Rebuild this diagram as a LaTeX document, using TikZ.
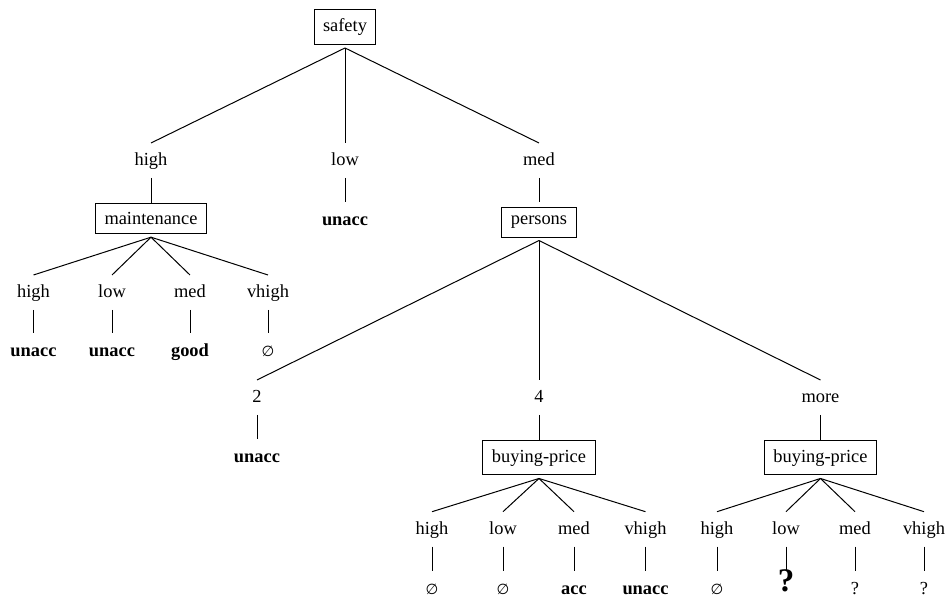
\documentclass[tikz,border=0pt]{standalone}
\usepackage{fontspec}
\setmainfont{Liberation Serif}
\newfontfamily\dejavu{DejaVu Sans}
\newcommand\myfs{\fontsize{9.2}{11}\selectfont}
\tikzset{
  lab/.style={inner sep=0pt, text height=7.3pt, text depth=2.2pt, outer ysep=4pt, anchor=north, font=\myfs},
  leaf/.style={inner sep=0pt, text height=7.3pt, text depth=2.2pt, outer ysep=4.5pt, anchor=north, font=\myfs\bfseries},
  emptyleaf/.style={leaf, font=\dejavu\fontsize{7.3}{8}\selectfont},
  bigq/.style={leaf, text height=6.1pt, font=\fontsize{16.5}{20}\selectfont\bfseries},
  smallq/.style={leaf, font=\myfs},
  attr/.style={draw, line width=0.5pt, inner xsep=4.5pt, inner ysep=4.35pt, anchor=base, font=\myfs},
  edge/.style={line width=0.5pt},
}
\begin{document}
\begin{tikzpicture}[x=0.5pt, y=-0.5pt]
\useasboundingbox (0,0) rectangle (950,598);
% root
\node[attr] (safety) at (345,31.4) {safety};
\node[lab] (shigh) at (151,143) {high};
\node[lab] (slow) at (345,143) {low};
\node[lab] (smed) at (539,143) {med};
\draw[edge] ([yshift=-1.7pt]safety.south) -- (shigh.north);
\draw[edge] ([yshift=-1.7pt]safety.south) -- (slow.north);
\draw[edge] ([yshift=-1.7pt]safety.south) -- (smed.north);
% level 1
\node[attr] (maint) at (151,224.4) {maintenance};
\node[leaf] (slowr) at (345,202) {unacc};
\node[attr] (persons) at (539,224.4) {persons};
\draw[edge] (shigh.south) -- (maint.north);
\draw[edge] (slow.south) -- (slowr.north);
\draw[edge] (smed.south) -- ([yshift=2.4pt]persons.north);
% maintenance children
\node[lab] (mhigh) at (33.5,275) {high};
\node[lab] (mlow) at (112,275) {low};
\node[lab] (mmed) at (190,275) {med};
\node[lab] (mvhigh) at (268,275) {vhigh};
\foreach \n in {mhigh,mlow,mmed,mvhigh}
  \draw[edge] ([yshift=-1.7pt]maint.south) -- (\n.north);
\node[leaf] (mhighr) at (33.5,333) {unacc};
\node[leaf] (mlowr) at (112,333) {unacc};
\node[leaf] (mmedr) at (190,333) {good};
\node[emptyleaf] (mvhighr) at (268,333) {∅};
\draw[edge] (mhigh.south) -- (mhighr.north);
\draw[edge] (mlow.south) -- (mlowr.north);
\draw[edge] (mmed.south) -- (mmedr.north);
\draw[edge] (mvhigh.south) -- (mvhighr.north);
% persons children
\node[lab] (ptwo) at (257,380) {2};
\node[lab] (pfour) at (539,380) {4};
\node[lab] (pmore) at (820.5,380) {more};
\foreach \n in {ptwo,pfour,pmore}
  \draw[edge] ([yshift=-1.5pt]persons.south) -- (\n.north);
\node[leaf] (ptwor) at (257,438.7) {unacc};
\node[attr] (bpa) at (539,462.1) {buying-price};
\node[attr] (bpb) at (820.5,462.1) {buying-price};
\draw[edge] (ptwo.south) -- (ptwor.north);
\draw[edge] (pfour.south) -- (bpa.north);
\draw[edge] (pmore.south) -- (bpb.north);
% buying-price (4) children
\node[lab] (ahigh) at (432,511.7) {high};
\node[lab] (alow) at (503,511.7) {low};
\node[lab] (amed) at (574,511.7) {med};
\node[lab] (avhigh) at (645.5,511.7) {vhigh};
\foreach \n in {ahigh,alow,amed,avhigh}
  \draw[edge] ([yshift=-1.6pt]bpa.south) -- (\n.north);
\node[emptyleaf] (ahighr) at (432,570.7) {∅};
\node[emptyleaf] (alowr) at (503,570.7) {∅};
\node[leaf] (amedr) at (574,570.7) {acc};
\node[leaf] (avhighr) at (645.5,570.7) {unacc};
\draw[edge] (ahigh.south) -- (ahighr.north);
\draw[edge] (alow.south) -- (alowr.north);
\draw[edge] (amed.south) -- (amedr.north);
\draw[edge] (avhigh.south) -- (avhighr.north);
% buying-price (more) children
\node[lab] (bhigh) at (717,511.7) {high};
\node[lab] (blow) at (786,511.7) {low};
\node[lab] (bmed) at (855,511.7) {med};
\node[lab] (bvhigh) at (924,511.7) {vhigh};
\foreach \n in {bhigh,blow,bmed,bvhigh}
  \draw[edge] ([yshift=-1.6pt]bpb.south) -- (\n.north);
\node[emptyleaf] (bhighr) at (717,570.7) {∅};
\node[bigq] (blowr) at (786,570.7) {?};
\node[smallq] (bmedr) at (855,570.7) {?};
\node[smallq] (bvhighr) at (924,570.7) {?};
\draw[edge] (bhigh.south) -- (bhighr.north);
\draw[edge] (blow.south) -- (blowr.north);
\draw[edge] (bmed.south) -- (bmedr.north);
\draw[edge] (bvhigh.south) -- (bvhighr.north);
\end{tikzpicture}
\end{document}
